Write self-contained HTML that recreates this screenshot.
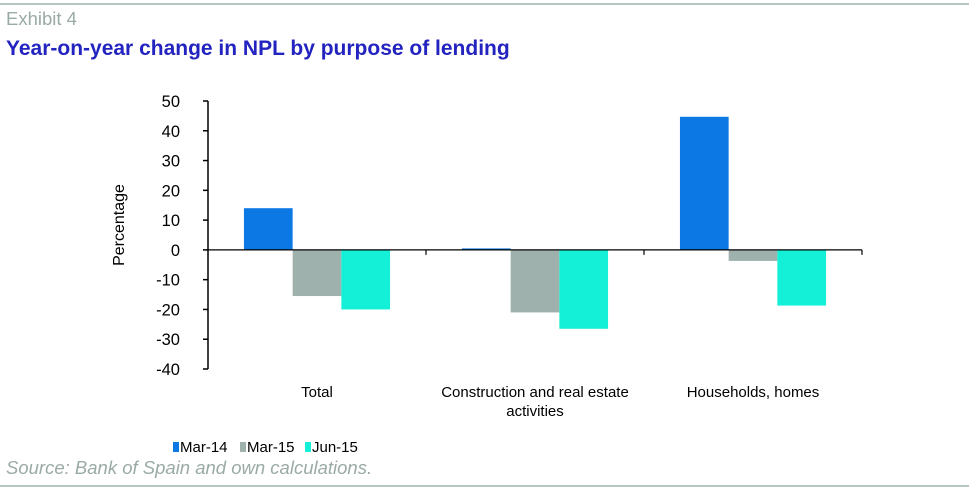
<!DOCTYPE html>
<html><head><meta charset="utf-8"><style>
body{margin:0;background:#fff;width:969px;height:490px;overflow:hidden;font-family:"Liberation Sans",sans-serif}
svg text{font-family:"Liberation Sans",sans-serif}
</style></head><body>
<svg id="c" width="969" height="490">
<line x1="0" y1="4" x2="969" y2="4" stroke="#b8c6c3" stroke-width="2"/>
<text x="6" y="25" font-size="18.5" fill="#9aaaa6">Exhibit 4</text>
<text x="6" y="55" font-size="21" font-weight="bold" fill="#2323c0">Year-on-year change in NPL by purpose of lending</text>
<text transform="translate(124,225) rotate(-90)" text-anchor="middle" font-size="16" fill="#000">Percentage</text>
<g id="plot"></g>
<g>
<rect x="173" y="442" width="6" height="10" fill="#0c78e4"/>
<text x="180" y="452" font-size="15">Mar-14</text>
<rect x="240" y="442" width="6" height="10" fill="#9eb1ad"/>
<text x="247" y="452" font-size="15">Mar-15</text>
<rect x="305" y="442" width="6" height="10" fill="#14f0d8"/>
<text x="312" y="452" font-size="15">Jun-15</text>
</g>
<text x="6" y="474" font-size="18.5" font-style="italic" fill="#9aaaa6">Source: Bank of Spain and own calculations.</text>
<line x1="0" y1="486" x2="969" y2="486" stroke="#b8c6c3" stroke-width="2"/>
</svg>
<script>
const categories=[["Total"],["Construction and real estate","activities"],["Households, homes"]];
const mar14=[14,0.5,44.7];
const mar15=[-15.5,-21,-3.7];
const jun15=[-20,-26.5,-18.7];
const ticks=[50,40,30,20,10,0,-10,-20,-30,-40];
const NS="http://www.w3.org/2000/svg";
const g=document.getElementById('plot');
const x0=208,x1=862,yTop=101,yBot=369,vMax=50,vMin=-40;
const y=v=>yTop+(vMax-v)/(vMax-vMin)*(yBot-yTop);
const gw=(x1-x0)/categories.length;
function mk(t,a){const e=document.createElementNS(NS,t);for(const k in a)e.setAttribute(k,a[k]);g.appendChild(e);return e;}
const series=[[mar14,"#0c78e4","mar14"],[mar15,"#9eb1ad","mar15"],[jun15,"#14f0d8","jun15"]];
const bw=48.7,pad=(gw-3*bw)/2;
series.forEach(([vals,col,nm],si)=>{vals.forEach((v,ci)=>{
 const bx=x0+ci*gw+pad+si*bw;
 const r=mk('rect',{x:bx,y:Math.min(y(v),y(0)),width:bw,height:Math.abs(y(v)-y(0)),fill:col});
 
 
});});
const ax=mk('line',{x1:x0,y1:yTop,x2:x0,y2:yBot,stroke:'#000','stroke-width':1.5});


ticks.forEach(t=>{
 const tl=mk('line',{x1:x0-5,y1:y(t),x2:x0,y2:y(t),stroke:'#000','stroke-width':1.5});
 
 
 const tx=mk('text',{x:180,y:y(t)+6,'text-anchor':'end','font-size':16.5});
 tx.textContent=t;
 
 
});
const zl=mk('line',{x1:x0,y1:y(0),x2:x1,y2:y(0),stroke:'#000','stroke-width':1.2});


for(let i=1;i<=categories.length;i++){
 const tk=mk('line',{x1:x0+i*gw,y1:y(0),x2:x0+i*gw,y2:y(0)+5,stroke:'#000','stroke-width':1.2});
 
 
}
categories.forEach((lines,ci)=>{lines.forEach((ln,li)=>{
 const t=mk('text',{x:x0+ci*gw+gw/2,y:397+li*19,'text-anchor':'middle','font-size':15});
 t.textContent=ln;
 
 
});});
</script>
</body></html>
